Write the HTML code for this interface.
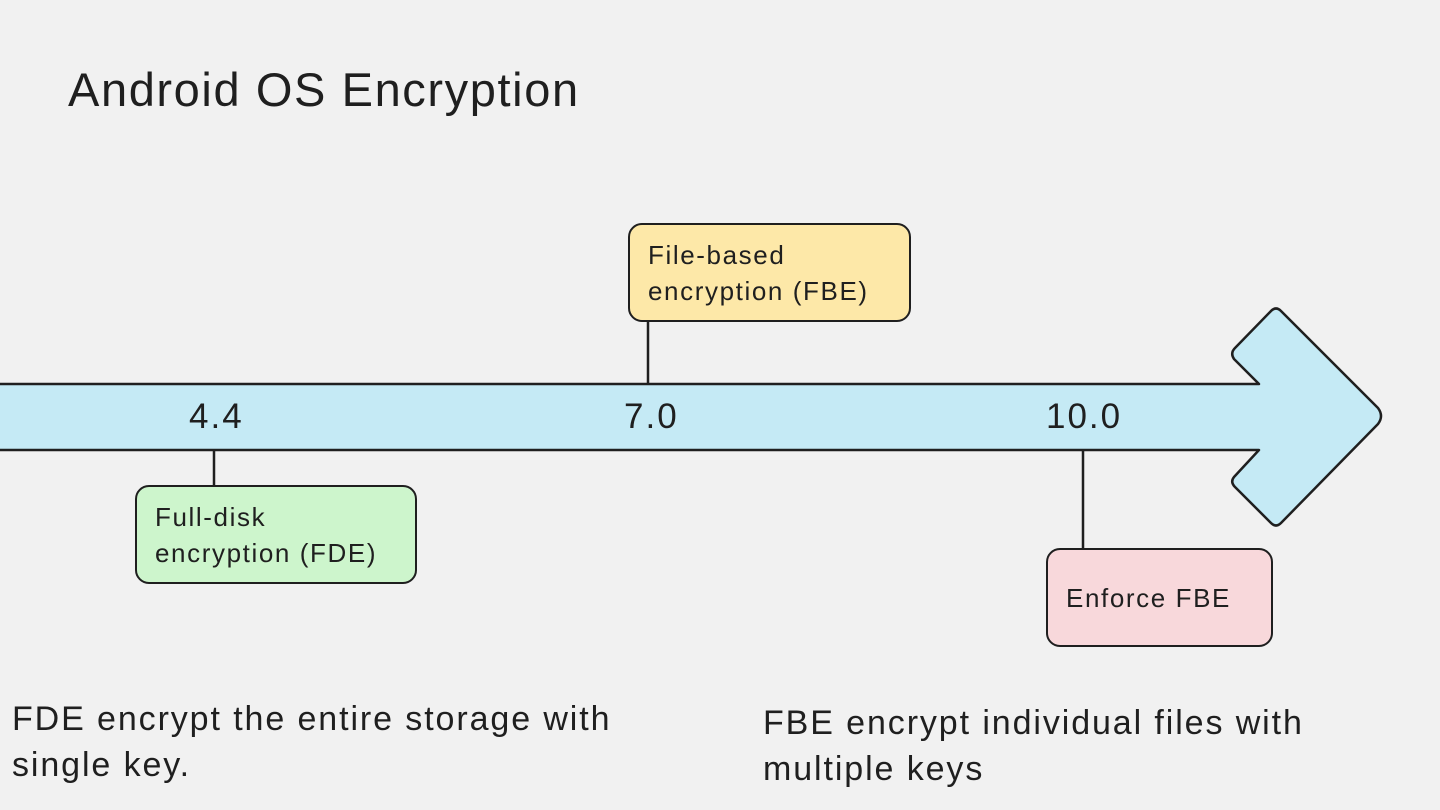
<!DOCTYPE html>
<html><head><style>
body{margin:0;width:1440px;height:810px;background:#f1f1f1;overflow:hidden;font-family:"Liberation Sans",sans-serif;color:#1f1f1f}
svg{position:absolute;left:0;top:0}
.t{position:absolute;white-space:nowrap}
.box{position:absolute;border:2.5px solid #1f1f1f;border-radius:14px;box-sizing:border-box;font-size:26px;line-height:36px;padding-left:18px;display:flex;align-items:center;letter-spacing:1.6px}
</style></head><body>
<svg width="1440" height="810">
<path d="M-5 384 L1259 384 L1234 359 Q1230 353 1235 348 L1271 311 Q1276 306 1281 311 L1378 408 Q1384 416 1378 424 L1281 523 Q1276 528 1271 523 L1235 487 Q1230 482 1234 477 L1259 450 L-5 450 Z" fill="#c5eaf5" stroke="#1f1f1f" stroke-width="2.5" stroke-linejoin="round"/>
<line x1="214" y1="450" x2="214" y2="487" stroke="#1f1f1f" stroke-width="2.5"/>
<line x1="648" y1="321" x2="648" y2="384" stroke="#1f1f1f" stroke-width="2.5"/>
<line x1="1083" y1="450" x2="1083" y2="550" stroke="#1f1f1f" stroke-width="2.5"/>
</svg>
<div class="t" style="left:68px;top:62px;font-size:47px;letter-spacing:1.6px">Android OS Encryption</div>
<div class="t" style="left:189px;top:397px;font-size:35px;letter-spacing:2px">4.4</div>
<div class="t" style="left:624px;top:397px;font-size:35px;letter-spacing:2px">7.0</div>
<div class="t" style="left:1046px;top:397px;font-size:35px;letter-spacing:2px">10.0</div>
<div class="box" style="left:135px;top:485px;width:282px;height:99px;background:#cdf5cc">Full-disk<br>encryption (FDE)</div>
<div class="box" style="left:628px;top:223px;width:283px;height:99px;background:#fde8a8">File-based<br>encryption (FBE)</div>
<div class="box" style="left:1046px;top:548px;width:227px;height:99px;background:#f8d8db">Enforce FBE</div>
<div class="t" style="left:12px;top:696px;font-size:34px;line-height:46px;letter-spacing:1.9px">FDE encrypt the entire storage with<br>single key.</div>
<div class="t" style="left:763px;top:700px;font-size:34px;line-height:46px;letter-spacing:1.9px">FBE encrypt individual files with<br>multiple keys</div>
</body></html>
